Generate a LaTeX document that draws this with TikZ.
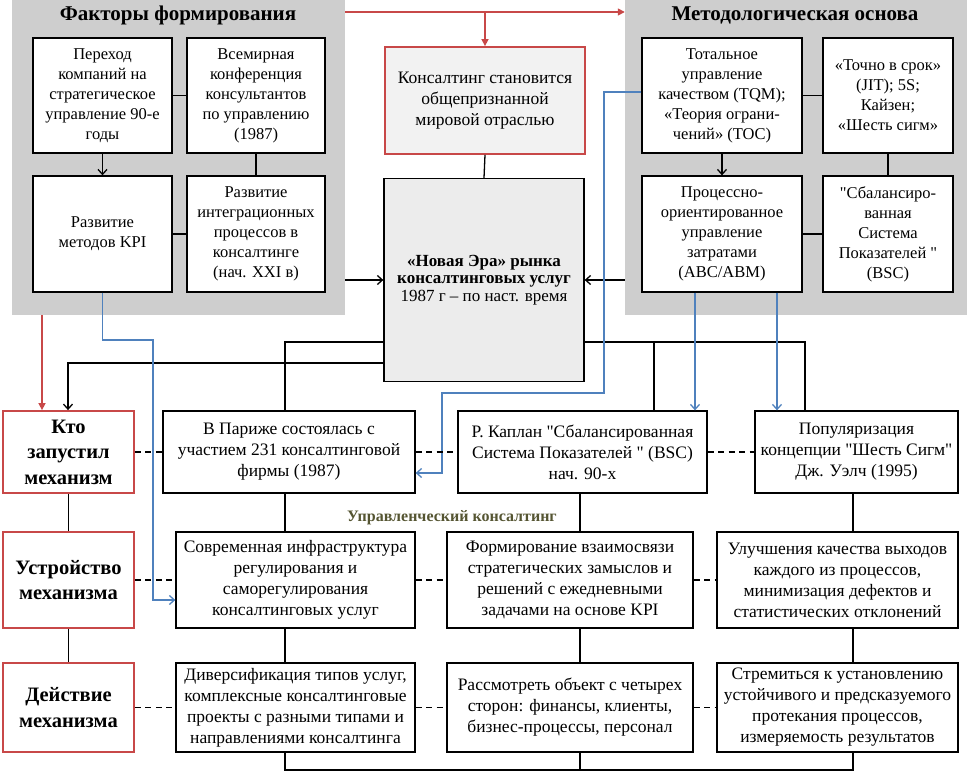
\documentclass[tikz,border=0pt]{standalone}
\usepackage{fontspec}
\setmainfont{Liberation Serif}[Ligatures=TeXOff]
\usetikzlibrary{arrows.meta}
\definecolor{pgray}{RGB}{206,206,206}
\definecolor{rbord}{RGB}{200,72,72}
\definecolor{bl}{RGB}{79,129,189}
\definecolor{olv}{RGB}{85,85,50}
\definecolor{nfill}{RGB}{236,236,236}
\definecolor{kfill}{RGB}{242,242,242}
\begin{document}
\begin{tikzpicture}[x=1pt,y=-1pt,
  panel/.style={fill=pgray, draw=none, inner sep=0pt},
  bx/.style={draw=black, line width=1.3pt, fill=white, align=center, inner sep=0pt, font=\fontsize{17.5}{21}\selectfont},
  pbx/.style={bx, font=\fontsize{16.5}{20}\selectfont},
  rbx/.style={draw=rbord, line width=1.8pt, fill=white, align=center, inner sep=0pt, font=\fontsize{20.5}{25.5}\selectfont\bfseries},
  sz/.style 2 args={minimum width=#1pt, minimum height=#2pt},
  ln/.style={line width=1.3pt, draw=black},
  arr/.style={ln, -{Straight Barb[length=5pt,width=9pt,line width=1.3pt]}},
  dln/.style={line width=1.1pt, draw=black, dash pattern=on 6pt off 4.5pt},
  blu/.style={line width=1.3pt, draw=bl, -{Straight Barb[length=5pt,width=9pt,line width=1.3pt]}},
  redarr/.style={line width=1.5pt, draw=rbord, -{Triangle[length=7pt,width=7pt]}},
  ttl/.style={font=\fontsize{21}{24}\selectfont\bfseries, inner sep=0pt},
  lbl/.style={font=\fontsize{16}{19}\selectfont\bfseries, text=olv, inner sep=0pt}
]
\useasboundingbox (0,0) rectangle (972,773);

% panels
\node[panel, sz={333}{315}] (PL) at (178.5,157.5) {};
\node[panel, sz={342}{315}] (PR) at (796,157.5) {};
\node[ttl] (TL) at (178,15) {Факторы формирования};
\node[ttl] (TR) at (795,15) {Методологическая основа};

% left panel boxes
\node[pbx, sz={139}{115}] (A) at (102.5,95.5) {Переход\\компаний на\\стратегическое\\управление 90-е\\годы};
\node[pbx, sz={138}{115}] (B) at (256,95.5) {Всемирная\\конференция\\консультантов\\по управлению\\(1987)};
\node[pbx, sz={139}{116}] (C) at (102.5,234) {Развитие\\методов KPI};
\node[pbx, sz={138}{116}] (D) at (256,234) {Развитие\\интеграционных\\процессов в\\консалтинге\\(нач. XXI в)};

% right panel boxes
\node[pbx, sz={160}{115}] (E) at (722,95.5) {Тотальное\\управление\\качеством (TQM);\\«Теория ограни-\\чений» (TOC)};
\node[pbx, sz={130}{115}] (F) at (888,95.5) {«Точно в срок»\\(JIT); 5S;\\Кайзен;\\«Шесть сигм»};
\node[pbx, sz={160}{116}] (G) at (722,234) {Процессно-\\ориентированное\\управление\\затратами\\(ABC/ABM)};
\node[pbx, sz={130}{116}] (H) at (888,234) {"Сбалансиро-\\ванная\\Система\\Показателей "\\(BSC)};

% center boxes
\node[bx, draw=rbord, line width=1.8pt, fill=kfill, sz={200}{107}, font=\fontsize{17.5}{21}\selectfont] (K) at (485,100.5) {Консалтинг становится\\общепризнанной\\мировой отраслью};
\node[bx, fill=nfill, sz={200}{203}, font=\fontsize{17}{17.5}\selectfont] (N) at (484,280) {\textbf{«Новая Эра» рынка}\\\textbf{консалтинговых услуг}\\1987 г – по наст. время};

% row 2
\node[rbx, sz={131}{82}] (Kto) at (68.5,452) {Кто\\запустил\\механизм};
\node[bx, sz={252}{82}] (P) at (289,452) {В Париже состоялась с\\участием 231 консалтинговой\\фирмы (1987)};
\node[bx, sz={249}{82}] (Kp) at (582.5,452) {Р. Каплан "Сбалансированная\\Система Показателей " (BSC)\\нач. 90-х};
\node[bx, sz={203}{82}] (Pop) at (856.5,452) {Популяризация\\концепции "Шесть Сигм"\\Дж. Уэлч (1995)};

% label
\node[lbl] (L) at (452,518) {Управленческий консалтинг};

% row 3
\node[rbx, sz={131}{96}] (Ust) at (68.5,580) {Устройство\\механизма};
\node[bx, sz={239}{96}] (Inf) at (295.5,580) {Современная инфраструктура\\регулирования и\\саморегулирования\\консалтинговых услуг};
\node[bx, sz={246}{96}] (Form) at (570,580) {Формирование взаимосвязи\\стратегических замыслов и\\решений с ежедневными\\задачами на основе KPI};
\node[bx, sz={241}{96}] (Impr) at (837.5,580) {Улучшения качества выходов\\каждого из процессов,\\минимизация дефектов и\\статистических отклонений};

% row 4
\node[rbx, sz={131}{89}] (Act) at (68.5,707.5) {Действие\\механизма};
\node[bx, sz={239}{89}] (Div) at (295.5,707.5) {Диверсификация типов услуг,\\комплексные консалтинговые\\проекты с разными типами и\\направлениями консалтинга};
\node[bx, sz={246}{89}] (Cons) at (570,707.5) {Рассмотреть объект с четырех\\сторон: финансы, клиенты,\\бизнес-процессы, персонал};
\node[bx, sz={241}{89}] (Str) at (837.5,707.5) {Стремиться к установлению\\устойчивого и предсказуемого\\протекания процессов,\\измеряемость результатов};

% coordinates
\coordinate (t1) at (0,12);
\coordinate (j1) at (285,342);
\coordinate (j2) at (68,363);
\coordinate (j3) at (805,342);
\coordinate (j4) at (654,342);
\coordinate (r1) at (42,0);
\coordinate (b1) at (153,340);
\coordinate (b2) at (153,600);
\coordinate (q1) at (604,92);
\coordinate (q2) at (442,393);
\coordinate (q3) at (442,473);
\coordinate (g1) at (695,0);
\coordinate (g2) at (777,0);
\coordinate (c1) at (285,0);
\coordinate (c2) at (580,0);
\coordinate (c3) at (853,0);
\coordinate (bot) at (0,770);

% panel internal connectors
\draw[ln] (A.east) -- (B.west);
\draw[arr] (A.south) -- (C.north);
\draw[ln] (B.south) -- (D.north);
\draw[ln] (C.east) -- (D.west);
\draw[ln] (E.east) -- (F.west);
\draw[arr] (E.south) -- (G.north);
\draw[ln] (F.south) -- (H.north);
\draw[ln] (G.east) -- (H.west);

% top red arrows
\draw[redarr] (PL.east |- t1) -- (PR.west |- t1);
\draw[redarr] (K.north |- t1) -- (K.north);
\draw[ln] (K.south) -- (N.north);
\draw[arr] (PL.east |- N.west) -- (N.west);
\draw[arr] (PR.west |- N.east) -- (N.east);

% from N down
\draw[ln] (N.west |- j1) -- (j1) -- (j1 |- P.north);
\draw[arr] (N.west |- j2) -- (j2) -- (j2 |- Kto.north);
\draw[ln] (N.east |- j3) -- (j3) -- (j3 |- Pop.north);
\draw[ln] (j4) -- (j4 |- Kp.north);

% red arrow to Kto
\draw[redarr] (PL.south -| r1) -- (Kto.north -| r1);

% blue connectors
\draw[blu] (C.south) -- (C.south |- b1) -- (b1) -- (b2) -- (Inf.west |- b2);
\draw[blu] (E.west |- q1) -- (q1) -- (q1 |- q2) -- (q2) -- (q3) -- (P.east |- q3);
\draw[blu] (G.south -| g1) -- (Kp.north -| g1);
\draw[blu] (G.south -| g2) -- (Pop.north -| g2);

% dashed row links
\draw[dln] (Kto.east) -- (P.west);
\draw[dln] (P.east) -- (Kp.west);
\draw[dln] (Kp.east) -- (Pop.west);
\draw[dln] (Ust.east) -- (Inf.west);
\draw[dln] (Inf.east) -- (Form.west);
\draw[dln] (Form.east) -- (Impr.west);
\draw[dln] (Act.east) -- (Div.west);
\draw[dln] (Div.east) -- (Cons.west);
\draw[dln] (Cons.east) -- (Str.west);

% vertical links
\draw[ln] (Kto.south) -- (Ust.north);
\draw[ln] (Ust.south) -- (Act.north);
\draw[ln] (P.south -| c1) -- (Inf.north -| c1);
\draw[ln] (Kp.south -| c2) -- (Form.north -| c2);
\draw[ln] (Pop.south -| c3) -- (Impr.north -| c3);
\draw[ln] (Inf.south -| c1) -- (Div.north -| c1);
\draw[ln] (Form.south -| c2) -- (Cons.north -| c2);
\draw[ln] (Impr.south -| c3) -- (Str.north -| c3);
\draw[ln] (Div.south -| c1) -- (c1 |- bot) -- (c3 |- bot) -- (Str.south -| c3);
\draw[ln] (Cons.south -| c2) -- (c2 |- bot);
\end{tikzpicture}
\end{document}
